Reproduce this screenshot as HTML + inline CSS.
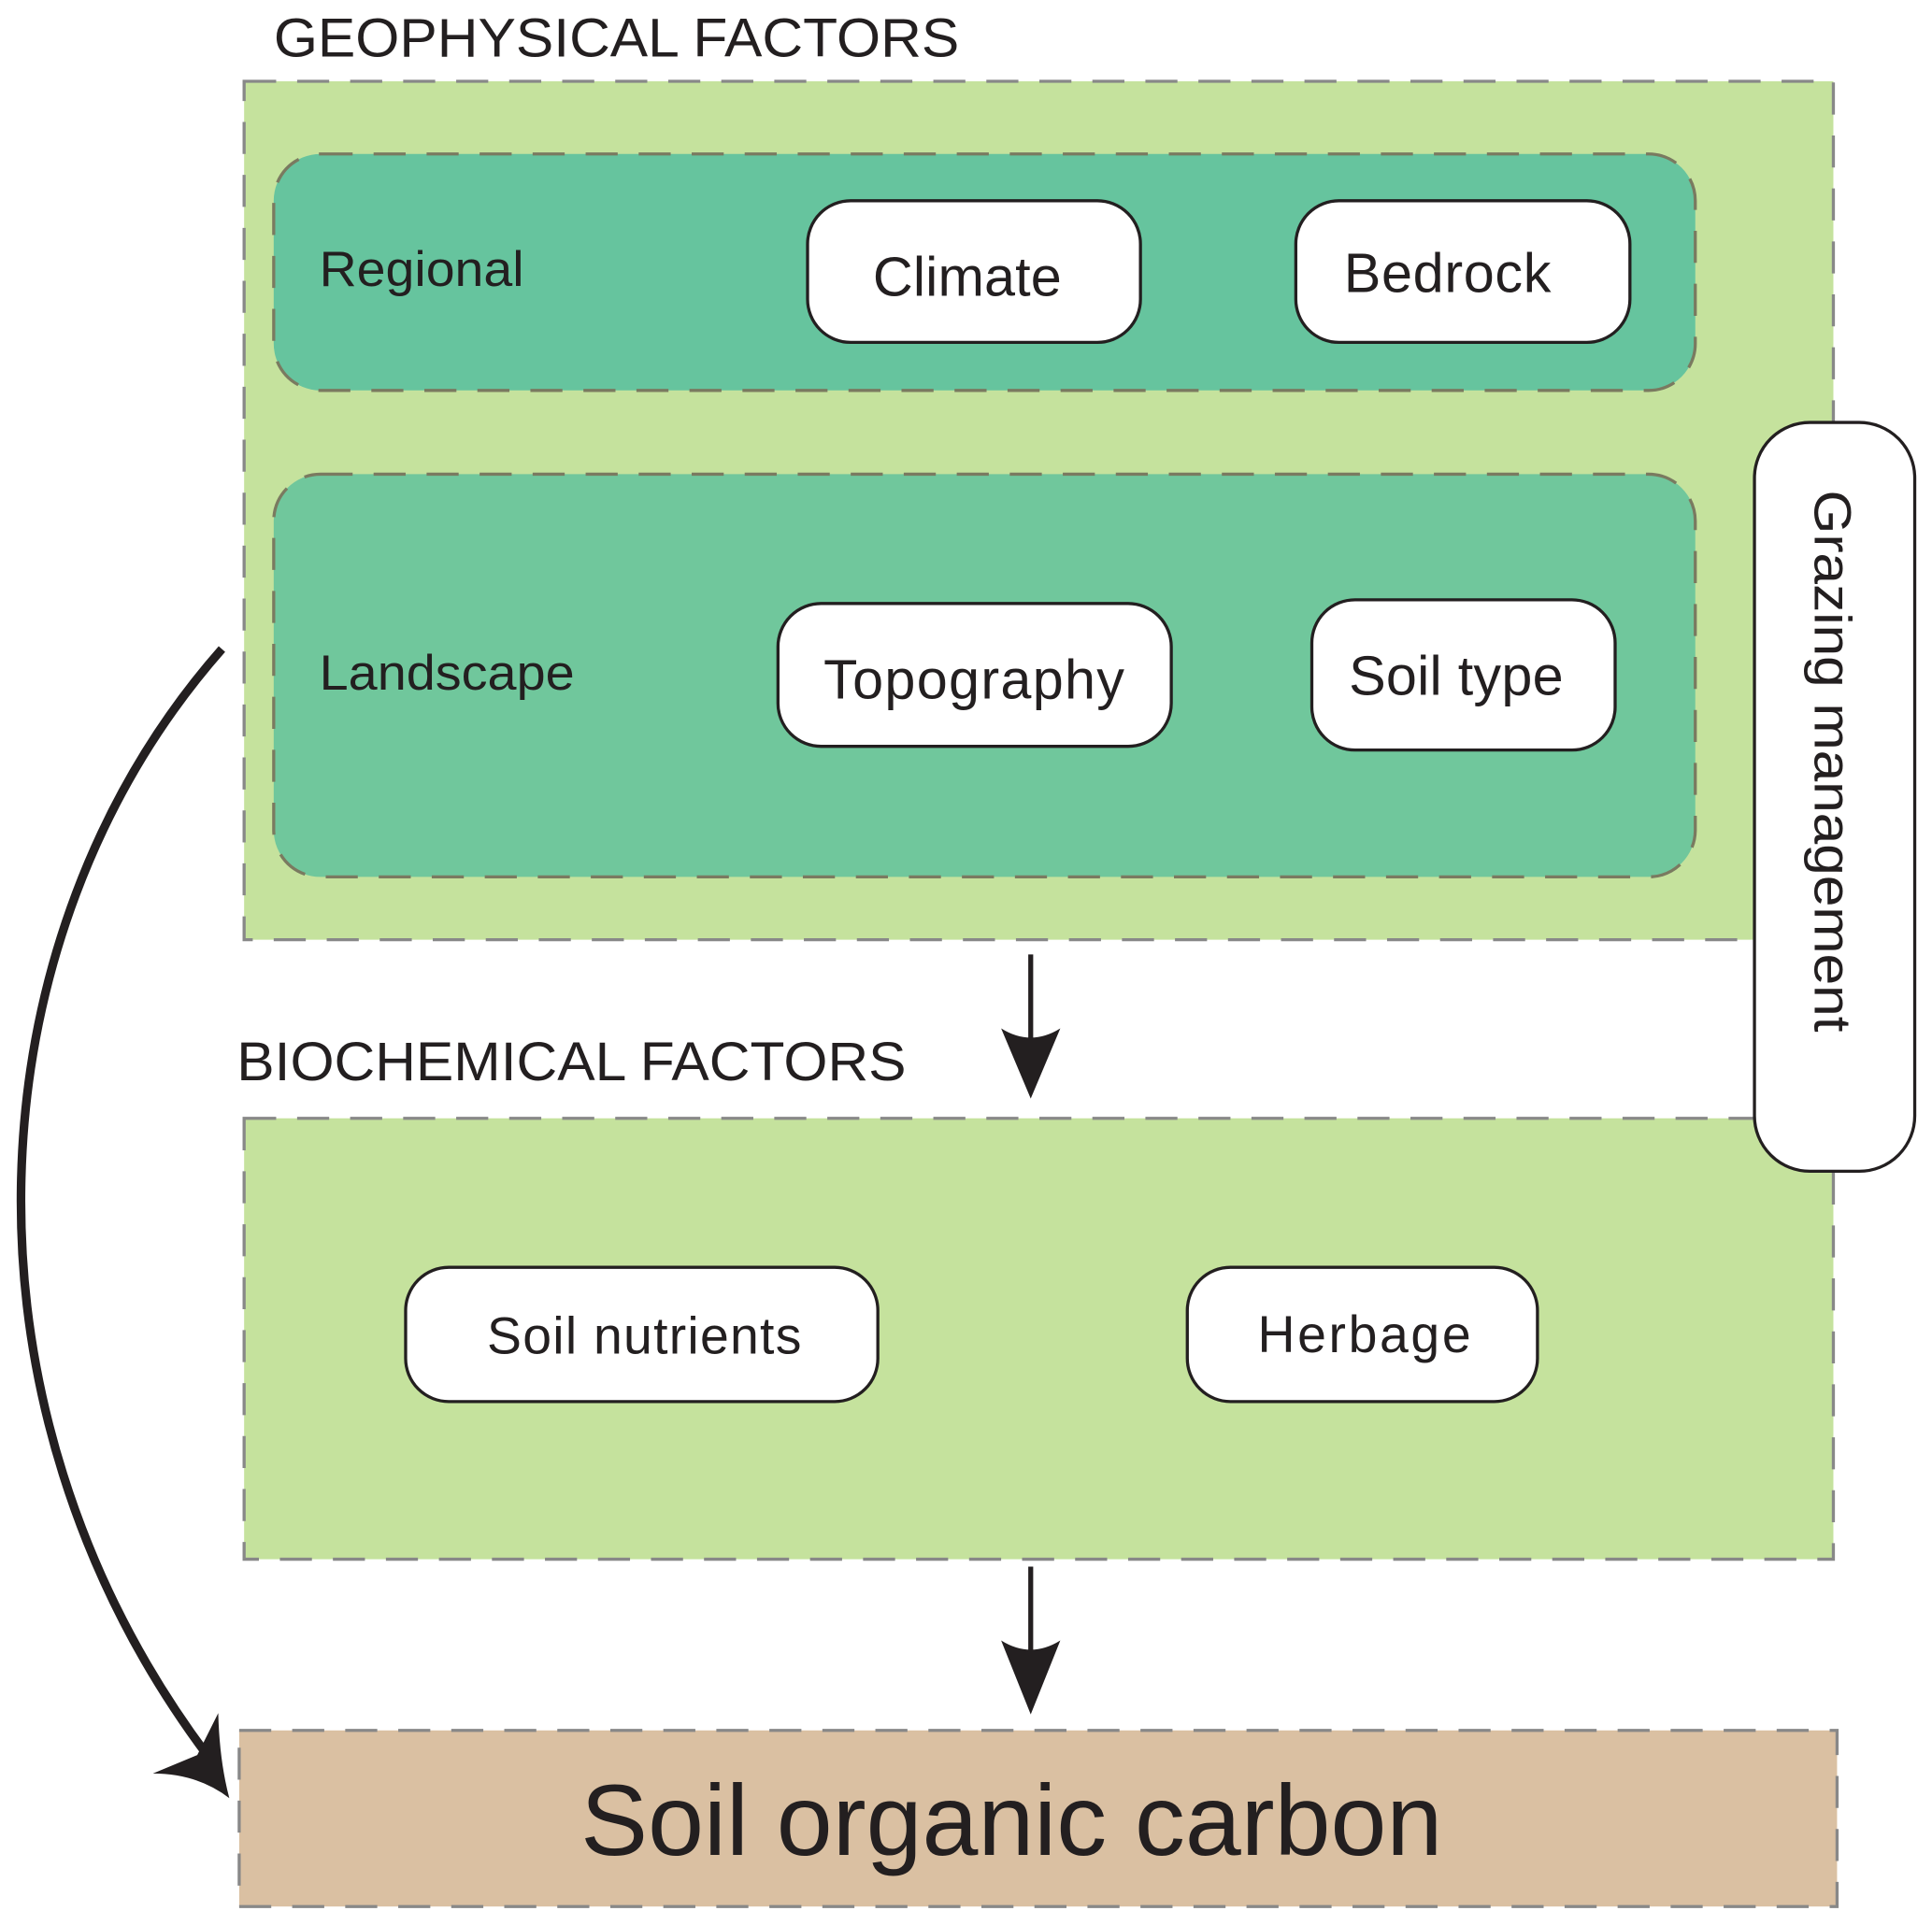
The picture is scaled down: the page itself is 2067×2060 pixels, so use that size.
<!DOCTYPE html>
<html><head><meta charset="utf-8"><style>html,body{margin:0;padding:0;background:#fff}svg{display:block}text{font-family:"Liberation Sans",sans-serif;fill:#231f20}</style></head>
<body>
<svg width="2067" height="2060" viewBox="0 0 1567 1563" preserveAspectRatio="none" xmlns="http://www.w3.org/2000/svg">
<g stroke="#888" stroke-width="2.5" stroke-dasharray="26,17">
<rect x="198" y="66" width="1289" height="697" fill="#c5e29d"/>
<rect x="198" y="908" width="1289" height="358" fill="#c5e29d"/>
<rect x="194" y="1405" width="1296" height="143" fill="#dac0a2"/>
</g>
<g stroke="#7a7a60" stroke-width="2.5" stroke-dasharray="26,17">
<rect x="222" y="125" width="1153" height="192" rx="38" fill="#66c49e"/>
<rect x="222" y="385" width="1153" height="327" rx="38" fill="#70c79c"/>
</g>
<text x="222" y="46" font-size="44" textLength="556" lengthAdjust="spacingAndGlyphs">GEOPHYSICAL FACTORS</text>
<text x="192" y="877" font-size="44" textLength="543" lengthAdjust="spacingAndGlyphs">BIOCHEMICAL FACTORS</text>
<text x="259" y="232" font-size="40" textLength="166" lengthAdjust="spacingAndGlyphs">Regional</text>
<text x="259" y="560" font-size="40" textLength="207" lengthAdjust="spacingAndGlyphs">Landscape</text>
<g fill="#fff" stroke="#231f20" stroke-width="2.5">
<rect x="655" y="163" width="270" height="115" rx="35"/>
<rect x="1051" y="163" width="271" height="115" rx="35"/>
<rect x="631" y="490" width="319" height="116" rx="35"/>
<rect x="1064" y="487" width="246" height="122" rx="35"/>
<rect x="329" y="1029" width="383" height="109" rx="35"/>
<rect x="963" y="1029" width="284" height="109" rx="35"/>
<rect x="1423" y="343" width="130" height="608" rx="45"/>
</g>
<g font-size="45" lengthAdjust="spacingAndGlyphs">
<text x="708" y="240" textLength="153">Climate</text>
<text x="1090" y="237" textLength="168">Bedrock</text>
<text x="668" y="567" textLength="244">Topography</text>
<text x="1094" y="564" textLength="174">Soil type</text>
<text x="395" y="1099" font-size="42" textLength="255">Soil nutrients</text>
<text x="1020" y="1098" font-size="42" textLength="173">Herbage</text>
</g>
<text transform="translate(1472,398) rotate(90)" font-size="42" textLength="440" lengthAdjust="spacingAndGlyphs">Grazing management</text>
<text x="471" y="1506" font-size="82" textLength="699" lengthAdjust="spacingAndGlyphs">Soil organic carbon</text>
<g stroke="#231f20" stroke-width="4" fill="none">
<line x1="836" y1="775" x2="836" y2="850"/>
<line x1="836" y1="1272" x2="836" y2="1350"/>
<path d="M180,527 C -25,760 -45,1140 168,1425" stroke-width="7"/>
</g>
<g fill="#231f20">
<path d="M812,835 Q836,850 860,835 L836,892 Z"/>
<path d="M812,1332 Q836,1347 860,1332 L836,1392 Z"/>
<path d="M186,1460 Q160,1440 124,1440 L160,1425 L177,1391 Q178,1430 186,1460 Z"/>
</g>
</svg>
</body></html>
